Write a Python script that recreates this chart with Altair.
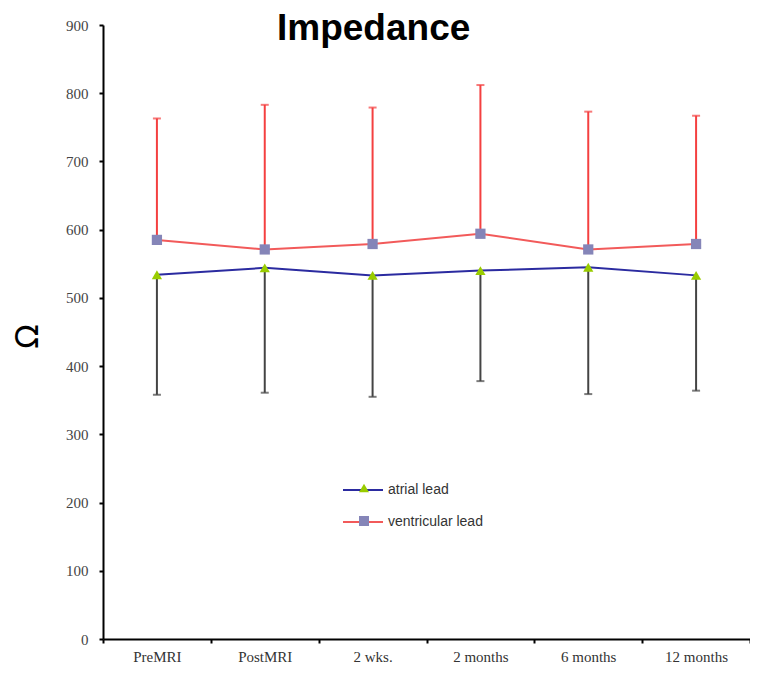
import altair as alt
import pandas as pd

categories = ["PreMRI", "PostMRI", "2 wks.", "2 months", "6 months", "12 months"]
series_names = ["atrial lead", "ventricular lead"]
atrial_mean = [534, 544, 533, 540, 545, 533]
atrial_lower = [358, 361, 355, 378, 359, 364]
ventricular_mean = [585, 571, 579, 594, 571, 579]
ventricular_upper = [763, 783, 779, 812, 773, 767]
y_ticks = [0, 100, 200, 300, 400, 500, 600, 700, 800, 900]

rows = []
for i, c in enumerate(categories):
    rows.append({"time": c, "series": series_names[0], "mean": atrial_mean[i], "err": atrial_lower[i]})
    rows.append({"time": c, "series": series_names[1], "mean": ventricular_mean[i], "err": ventricular_upper[i]})
df = pd.DataFrame(rows)
df["series_p"] = df["series"]

base = alt.Chart(df)

xenc = alt.X(
    "time:N",
    sort=categories,
    scale=alt.Scale(type="band", paddingInner=0, paddingOuter=0),
    axis=alt.Axis(
        title=None, labelAngle=0, grid=False, tickBand="extent",
        domainColor="black", domainWidth=2, tickColor="black", tickSize=4, tickWidth=2,
        labelFont="Liberation Serif", labelFontSize=15, labelColor="#333333", labelPadding=6,
    ),
)
yenc = alt.Y(
    "mean:Q",
    scale=alt.Scale(domain=[0, 900], nice=False),
    axis=alt.Axis(
        values=y_ticks, grid=False, title="Ω",
        titleFont="DejaVu Sans", titleFontSize=32, titleFontWeight="normal", titleColor="black",
        titleX=-76, titleY=311, titleAlign="center", titleBaseline="middle", titleAngle=-90,
        domainColor="black", domainWidth=2, tickColor="black", tickSize=4, tickWidth=2,
        labelFont="Liberation Serif", labelFontSize=15, labelColor="#444444", labelPadding=11,
    ),
)

atr = base.transform_filter(alt.datum.series == series_names[0])
ven = base.transform_filter(alt.datum.series == series_names[1])

atr_bar = atr.mark_rule(color="#444444", strokeWidth=2).encode(x=xenc, y=yenc, y2="err:Q")
atr_cap = atr.mark_tick(color="#444444", thickness=2, size=8, orient="horizontal").encode(x=xenc, y="err:Q")
ven_bar = ven.mark_rule(color="#f44040", strokeWidth=2).encode(x=xenc, y=yenc, y2="err:Q")
ven_cap = ven.mark_tick(color="#f44040", thickness=2, size=8, orient="horizontal").encode(x=xenc, y="err:Q")

lines = base.mark_line(strokeWidth=2).encode(
    x=xenc, y=yenc,
    stroke=alt.Stroke(
        "series:N",
        scale=alt.Scale(domain=series_names, range=["#2b2ba0", "#f25a5a"]),
        legend=alt.Legend(
            title=None, orient="none", legendX=239, legendY=444, padding=0,
            symbolType="stroke", symbolSize=1600, symbolStrokeWidth=2,
            labelFont="Liberation Sans", labelFontSize=14, labelColor="#333333",
            labelOffset=4, rowPadding=4,
        ),
    ),
)

pt_legend = alt.Legend(
    title=None, orient="none", legendX=254, legendY=456, padding=0,
    symbolSize=100, symbolStrokeWidth=0,
    labelFont="Liberation Sans", labelFontSize=14, labelOpacity=0,
    labelOffset=4, rowPadding=19,
)
points = base.mark_point(filled=True, size=105, opacity=1).encode(
    x=xenc, y=yenc,
    fill=alt.Fill("series_p:N", scale=alt.Scale(domain=series_names, range=["#99cc00", "#8585b8"]), legend=pt_legend),
    shape=alt.Shape("series_p:N", scale=alt.Scale(domain=series_names, range=["triangle-up", "square"]), legend=pt_legend),
)

chart = alt.layer(atr_bar, atr_cap, ven_bar, ven_cap, lines, points).resolve_scale(
    stroke="independent", fill="independent", shape="independent"
).properties(
    width=647,
    height=614,
    title=alt.Title(
        "Impedance", font="Liberation Sans", fontSize=37, fontWeight="bold", color="black",
        anchor="start", frame="group", dx=174, offset=-15, dy=44, baseline="alphabetic",
    ),
    autosize=alt.AutoSizeParams(type="none"),
    padding={"left": 95, "top": 17, "right": 0, "bottom": 29},
).configure(background="white", view=alt.ViewConfig(stroke=None))

chart.save("out.html", embed_options={"renderer": "svg", "actions": False})
